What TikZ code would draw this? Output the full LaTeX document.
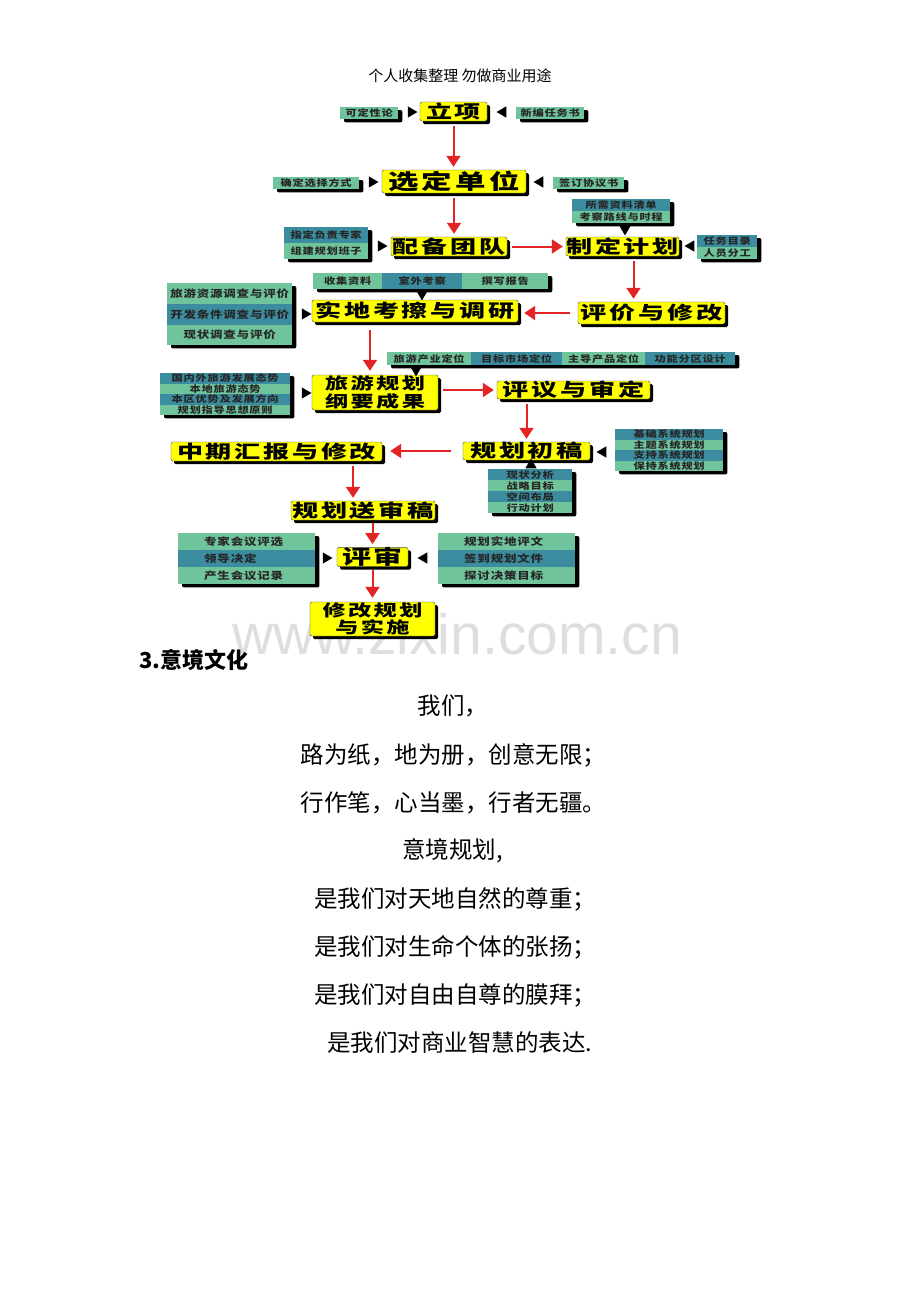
\documentclass[tikz,border=0pt]{standalone}
\usepackage{fontspec}
\usepackage{xcolor}
\usetikzlibrary{arrows.meta,shapes.geometric,shadows,fit,backgrounds}
\setmainfont{Noto Sans CJK SC}
\newfontfamily\cjk{Noto Sans CJK SC}
\newfontfamily\boxfont{Noto Sans CJK SC}[FakeStretch=1.45,LetterSpace=15]
\newfontfamily\cellfont{Noto Sans CJK SC}[FakeStretch=1.25,LetterSpace=8]
\newfontfamily\wmfont{Liberation Sans}
\definecolor{stagey}{RGB}{255,255,0}
\definecolor{cellg}{RGB}{112,196,156}
\definecolor{cellt}{RGB}{58,140,158}
\definecolor{flowred}{RGB}{226,36,36}
\definecolor{wmgray}{RGB}{222,222,222}

\begin{document}
\begin{tikzpicture}[x=1pt,y=-1pt]
    \tikzset{
        stage/.style={fill=stagey, draw=black!70, line width=0.4pt, rounded corners=1.5pt,
            inner sep=0pt, align=center,
            general shadow={fill=black, shadow xshift=3pt, shadow yshift=-3pt},
            font=\boxfont\bfseries\fontsize{#1}{#1}\selectfont},
        stage/.default=18,
        twoline/.style={font=\boxfont\bfseries\fontsize{16}{17.5}\selectfont},
        cell/.style={inner sep=0pt, anchor=north west, text=black!85,
            font=\cellfont\bfseries\fontsize{#1}{#1}\selectfont},
        cell/.default=9,
        gcell/.style={cell=#1, fill=cellg}, gcell/.default=9,
        tcell/.style={cell=#1, fill=cellt}, tcell/.default=9,
        leftcell/.style={align=left, inner xsep=26pt, text width=85pt},
        grp/.style={inner sep=0pt, rounded corners=2pt,
            general shadow={fill=black, shadow xshift=4pt, shadow yshift=-3pt}},
        ptr/.style={regular polygon, regular polygon sides=3, fill=black, inner sep=0pt, minimum size=13pt},
        flow/.style={draw=flowred, line width=2pt, -{Triangle[length=11pt,width=14pt]},
            shorten <=5pt, shorten >=3pt},
        poem/.style={font=\cjk\fontsize{23.5}{26}\selectfont}
    }
    \path[use as bounding box] (0,0) rectangle (920,1302);
    \begin{scope}[on background layer]
        \fill[white] (0,0) rectangle (920,1302);
    \end{scope}

    % header and watermark
    \node[font=\cjk\fontsize{15}{16}\selectfont] (hdr) at (460,76) {个人收集整理 勿做商业用途};
    \node[font=\wmfont\fontsize{57}{57}\selectfont, text=wmgray] (wm) at (457,634) {www.zixin.com.cn};

    % main steps
    \node[stage, minimum width=67, minimum height=19] (lixiang) at (453.5,111.5) {立项};
    \node[stage=21, minimum width=144, minimum height=23] (xuanding) at (454,181.5) {选定单位};
    \node[stage, minimum width=116, minimum height=19] (peibei) at (449,246.5) {配备团队};
    \node[stage, minimum width=113, minimum height=19] (zhiding) at (622.5,246.5) {制定计划};
    \node[stage, minimum width=206, minimum height=22] (shidi) at (415,311) {实地考擦与调研};
    \node[stage, minimum width=147, minimum height=22] (pingjia) at (651.5,313) {评价与修改};
    \node[stage, twoline, minimum width=126, minimum height=35] (gangyao) at (375,392.5) {旅游规划\\纲要成果};
    \node[stage, minimum width=153, minimum height=18] (pingyi) at (573.5,390) {评议与审定};
    \node[stage, minimum width=127, minimum height=18] (chugao) at (526.5,451) {规划初稿};
    \node[stage, minimum width=211, minimum height=19] (zhongqi) at (276.5,451.5) {中期汇报与修改};
    \node[stage, minimum width=144, minimum height=19] (songshen) at (363,510.5) {规划送审稿};
    \node[stage=20, minimum width=71, minimum height=18] (pingshen) at (372.5,557) {评审};
    \node[stage, twoline, minimum width=125, minimum height=34] (xiugai) at (372.5,619) {修改规划\\与实施};

    % side notes
    \node[gcell, minimum width=58, minimum height=12] (kdx) at (340,107) {可定性论};
    \node[gcell, minimum width=68, minimum height=12] (xbr) at (516,107) {新编任务书};
    \node[gcell, minimum width=86, minimum height=12] (qdf) at (273,177) {确定选择方式};
    \node[gcell, minimum width=71, minimum height=12] (qdx) at (553,177) {签订协议书};
    \node[tcell, minimum width=84, minimum height=16] (zdz) at (284,227) {指定负责专家};
    \node[gcell, minimum width=84, minimum height=16] (zjb) at (284,243) {组建规划班子};
    \node[tcell, minimum width=98, minimum height=12] (sxz) at (572,199) {所需资料清单};
    \node[gcell, minimum width=98, minimum height=12] (kcl) at (572,211) {考察路线与时程};
    \node[tcell, minimum width=60, minimum height=12] (rwm) at (697,235) {任务目录};
    \node[gcell, minimum width=60, minimum height=12] (ryf) at (697,247) {人员分工};
    \node[gcell, minimum width=69, minimum height=16] (sjz) at (313,273) {收集资料};
    \node[tcell, minimum width=80, minimum height=16] (swk) at (382,273) {室外考察};
    \node[gcell, minimum width=86, minimum height=16] (zxb) at (462,273) {撰写报告};
    \node[gcell=10, minimum width=125, minimum height=21] (lyz) at (167,283) {旅游资源调查与评价};
    \node[tcell=10, minimum width=125, minimum height=21] (kft) at (167,304) {开发条件调查与评价};
    \node[gcell=10, minimum width=125, minimum height=20] (xzd) at (167,325) {现状调查与评价};
    \node[gcell, minimum width=84, minimum height=13] (lcy) at (387,352) {旅游产业定位};
    \node[tcell, minimum width=91, minimum height=13] (mbs) at (471,352) {目标市场定位};
    \node[gcell, minimum width=83, minimum height=13] (zdc) at (562,352) {主导产品定位};
    \node[tcell, minimum width=90, minimum height=13] (gnf) at (645,352) {功能分区设计};
    \node[tcell, minimum width=130, minimum height=10.5] (gnw) at (160,373) {国内外旅游发展态势};
    \node[gcell, minimum width=130, minimum height=10.5] (bdl) at (160,383.5) {本地旅游态势};
    \node[tcell, minimum width=130, minimum height=10.5] (bqy) at (160,394) {本区优势及发展方向};
    \node[gcell, minimum width=130, minimum height=10.5] (ghz) at (160,404.5) {规划指导思想原则};
    \node[tcell, minimum width=108, minimum height=10.5] (jcx) at (615,429) {基础系统规划};
    \node[gcell, minimum width=108, minimum height=10.5] (ztx) at (615,439.5) {主题系统规划};
    \node[tcell, minimum width=108, minimum height=10.5] (zcx) at (615,450) {支持系统规划};
    \node[gcell, minimum width=108, minimum height=10.5] (bcx) at (615,460.5) {保持系统规划};
    \node[tcell, minimum width=84, minimum height=11] (xzf) at (488,469) {现状分析};
    \node[gcell, minimum width=84, minimum height=11] (zlm) at (488,480) {战略目标};
    \node[tcell, minimum width=84, minimum height=11] (kjb) at (488,491) {空间布局};
    \node[gcell, minimum width=84, minimum height=11] (xdj) at (488,502) {行动计划};
    \node[gcell=10, leftcell, minimum height=17] (zjh) at (178,533) {专家会议评选};
    \node[tcell=10, leftcell, minimum height=17] (ldj) at (178,550) {领导决定};
    \node[gcell=10, leftcell, minimum height=17] (cshy) at (178,567) {产生会议记录};
    \node[gcell=10, leftcell, minimum height=17] (ghs) at (438,533) {规划实地评文};
    \node[tcell=10, leftcell, minimum height=17] (qdg) at (438,550) {签到规划文件};
    \node[gcell=10, leftcell, minimum height=17] (tjc) at (438,567) {探讨决策目标};

    \begin{scope}[on background layer]
        \node[grp, fit=(kdx)] (g1) {};
        \node[grp, fit=(xbr)] (g2) {};
        \node[grp, fit=(qdf)] (g3) {};
        \node[grp, fit=(qdx)] (g4) {};
        \node[grp, fit=(zdz)(zjb)] (g5) {};
        \node[grp, fit=(sxz)(kcl)] (g6) {};
        \node[grp, fit=(rwm)(ryf)] (g7) {};
        \node[grp, fit=(sjz)(zxb)] (g8) {};
        \node[grp, fit=(lyz)(xzd)] (g9) {};
        \node[grp, fit=(lcy)(gnf)] (g10) {};
        \node[grp, fit=(gnw)(ghz)] (g11) {};
        \node[grp, fit=(jcx)(bcx)] (g12) {};
        \node[grp, fit=(xzf)(xdj)] (g13) {};
        \node[grp, fit=(zjh)(cshy)] (g14) {};
        \node[grp, fit=(ghs)(tjc)] (g15) {};
    \end{scope}

    % pointers
    \node[ptr, shape border rotate=-90] (p1) at (411,112) {};
    \node[ptr, shape border rotate=90] (p2) at (503,112) {};
    \node[ptr, shape border rotate=-90] (p3) at (372,182) {};
    \node[ptr, shape border rotate=90] (p4) at (540,182) {};
    \node[ptr, shape border rotate=-90] (p5) at (381,246) {};
    \node[ptr, shape border rotate=180] (p6) at (625,229) {};
    \node[ptr, shape border rotate=90] (p7) at (691,246) {};
    \node[ptr, shape border rotate=180] (p8) at (422,294) {};
    \node[ptr, shape border rotate=-90] (p9) at (305,314) {};
    \node[ptr, shape border rotate=180] (p10) at (416,370) {};
    \node[ptr, shape border rotate=-90] (p11) at (305,393) {};
    \node[ptr, shape border rotate=90] (p12) at (603,452) {};
    \node[ptr] (p13) at (531,465) {};
    \node[ptr, shape border rotate=-90] (p14) at (326,558) {};
    \node[ptr, shape border rotate=90] (p15) at (424,558) {};

    % flow
    \draw[flow] (lixiang) -- (lixiang |- xuanding.north);
    \draw[flow] (xuanding) -- (xuanding |- peibei.north);
    \draw[flow] (peibei) -- (zhiding);
    \draw[flow] ([xshift=11pt]zhiding.south) -- ([xshift=11pt]zhiding.south |- pingjia.north);
    \draw[flow, shorten <=8pt, shorten >=6pt] (pingjia.west) -- (pingjia.west -| shidi.east);
    \draw[flow, shorten <=8pt, shorten >=4pt] ([xshift=-5pt]gangyao.north |- shidi.south) -- ([xshift=-5pt]gangyao.north);
    \draw[flow] (gangyao.east |- pingyi) -- (pingyi.west);
    \draw[flow] (chugao |- pingyi.south) -- (chugao.north);
    \draw[flow, shorten <=12pt, shorten >=8pt] (chugao.west) -- (chugao.west -| zhongqi.east);
    \draw[flow] ([xshift=-10pt]songshen.north |- zhongqi.south) -- ([xshift=-10pt]songshen.north);
    \draw[flow, shorten <=3pt] (pingshen |- songshen.south) -- (pingshen.north);
    \draw[flow, shorten <=3pt, shorten >=4pt] (pingshen) -- (xiugai);

    % text below
    \node[anchor=west, font=\cjk\bfseries\fontsize{22}{24}\selectfont] (sec3) at (136,660) {3.意境文化};
    \node[poem] (l1) at (453,706) {我们，};
    \node[poem] (l2) at (453.5,755) {路为纸，地为册，创意无限；};
    \node[poem] (l3) at (453.5,803) {行作笔，心当墨，行者无疆。};
    \node[poem] (l4) at (452.5,851) {意境规划,};
    \node[poem] (l5) at (455,899) {是我们对天地自然的尊重；};
    \node[poem] (l6) at (455,947) {是我们对生命个体的张扬；};
    \node[poem] (l7) at (455,995) {是我们对自由自尊的膜拜；};
    \node[poem] (l8) at (460,1043) {是我们对商业智慧的表达.};
\end{tikzpicture}
\end{document}
